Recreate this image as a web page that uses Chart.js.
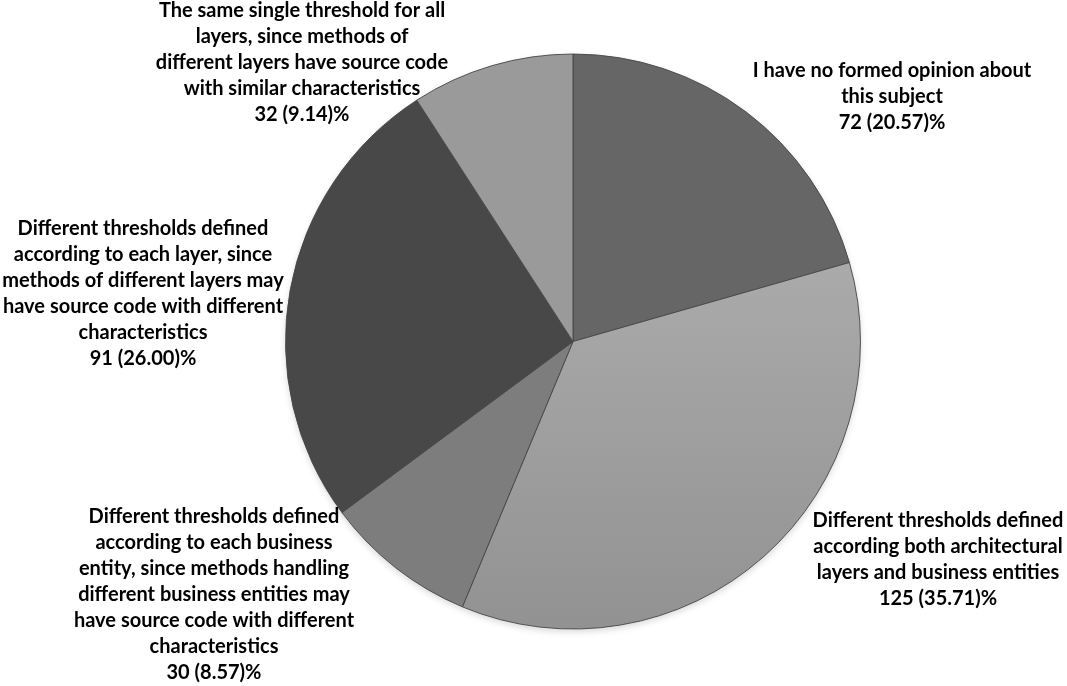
<!DOCTYPE html>
<html>
<head>
<meta charset="utf-8">
<script src="https://cdn.jsdelivr.net/npm/chart.js@4"></script>
<style>
html,body{margin:0;padding:0;background:#fff;}
#wrap{width:1067px;height:686px;position:relative;}
</style>
</head>
<body>
<div id="wrap"><canvas id="c" width="1067" height="686"></canvas></div>
<script>
const categories = [
  "I have no formed opinion about this subject",
  "Different thresholds defined according both architectural layers and business entities",
  "Different thresholds defined according to each business entity, since methods handling different business entities may have source code with different characteristics",
  "Different thresholds defined according to each layer, since methods of different layers may have source code with different characteristics",
  "The same single threshold for all layers, since methods of different layers have source code with similar characteristics"
];
const counts = [72, 125, 30, 91, 32];
const percents = ["20.57", "35.71", "8.57", "26.00", "9.14"];
const labelLines = [
  ["I have no formed opinion about", "this subject"],
  ["Different thresholds defined", "according both architectural", "layers and business entities"],
  ["Different thresholds defined", "according to each business", "entity, since methods handling", "different business entities may", "have source code with different", "characteristics"],
  ["Different thresholds defined", "according to each layer, since", "methods of different layers may", "have source code with different", "characteristics"],
  ["The same single threshold for all", "layers, since methods of", "different layers have source code", "with similar characteristics"]
];
const sliceColors = ["#666666", "#b0b0b0", "#7d7d7d", "#484848", "#9a9a9a"];

// layout for label blocks (center x, first line middle y)
const labelPos = [
  {x: 892, y: 71},
  {x: 938, y: 521},
  {x: 214, y: 517},
  {x: 143, y: 229},
  {x: 302, y: 11}
];
const lineH = 26;

const labelPlugin = {
  id: 'outLabels',
  afterDraw(chart) {
    const ctx = chart.ctx;
    ctx.save();
    ctx.font = "bold 20px Lato, 'Open Sans', sans-serif";
    ctx.fillStyle = "#000";
    ctx.textAlign = "center";
    ctx.textBaseline = "middle";
    labelLines.forEach((lines, i) => {
      const all = lines.concat([counts[i] + " (" + percents[i] + ")%"]);
      const p = labelPos[i];
      all.forEach((t, k) => ctx.fillText(t, p.x, p.y + k * lineH));
    });
    ctx.restore();
  }
};

const shadePlugin = {
  id: 'shade',
  beforeDatasetsDraw(chart) {
    const meta = chart.getDatasetMeta(0);
    const a = meta.data[0];
    if (!a) return;
    const ctx = chart.ctx;
    ctx.save();
    ctx.beginPath();
    ctx.arc(a.x, a.y + 3, a.outerRadius, 0, Math.PI * 2);
    ctx.fillStyle = "rgba(0,0,0,0.15)";
    ctx.filter = "blur(3px)";
    ctx.fill();
    ctx.restore();
  }
};

const ctx = document.getElementById('c').getContext('2d');
new Chart(ctx, {
  type: 'pie',
  data: {
    labels: categories,
    datasets: [{
      data: counts,
      backgroundColor: function(c) {
        const i = c.dataIndex;
        const chart = c.chart;
        const ca = chart.chartArea;
        if (!ca) return sliceColors[i];
        if (i === 1) {
          const g = chart.ctx.createLinearGradient(0, ca.top, 0, ca.bottom);
          g.addColorStop(0, "#b8b8b8");
          g.addColorStop(1, "#929292");
          return g;
        }
        return sliceColors[i];
      },
      borderColor: "rgba(70,70,70,0.9)",
      borderWidth: 1
    }]
  },
  options: {
    responsive: false,
    animation: false,
    rotation: 0,
    layout: { padding: { top: 53, bottom: 56, left: 285, right: 206 } },
    plugins: { legend: { display: false }, tooltip: { enabled: false } }
  },
  plugins: [shadePlugin, labelPlugin]
});
</script>
</body>
</html>
